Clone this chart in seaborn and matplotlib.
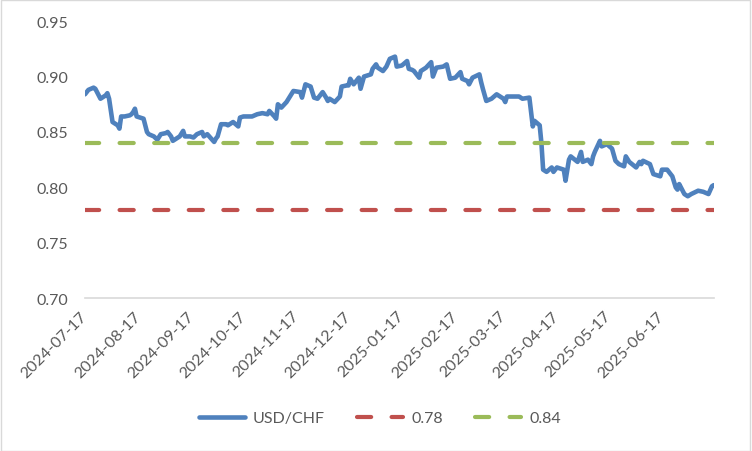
import matplotlib.pyplot as plt
from matplotlib.patches import Rectangle
import seaborn as sns
import pandas as pd

# USD/CHF
dates = [
    "2024-07-17", "2024-07-19", "2024-07-22", "2024-07-23", "2024-07-26", "2024-07-29",
    "2024-07-30", "2024-07-31", "2024-08-02", "2024-08-05", "2024-08-06", "2024-08-07",
    "2024-08-09", "2024-08-12", "2024-08-13", "2024-08-14", "2024-08-15", "2024-08-16",
    "2024-08-20", "2024-08-22", "2024-08-23", "2024-08-26", "2024-08-28", "2024-08-30",
    "2024-09-02", "2024-09-03", "2024-09-05", "2024-09-06", "2024-09-10", "2024-09-12",
    "2024-09-13", "2024-09-16", "2024-09-18", "2024-09-20", "2024-09-23", "2024-09-24",
    "2024-09-26", "2024-09-30", "2024-10-01", "2024-10-02", "2024-10-04", "2024-10-07",
    "2024-10-08", "2024-10-11", "2024-10-14", "2024-10-15", "2024-10-17", "2024-10-18",
    "2024-10-22", "2024-10-25", "2024-10-28", "2024-10-31", "2024-11-01", "2024-11-04",
    "2024-11-05", "2024-11-06", "2024-11-08", "2024-11-11", "2024-11-13", "2024-11-15",
    "2024-11-19", "2024-11-20", "2024-11-22", "2024-11-25", "2024-11-27", "2024-11-29",
    "2024-12-02", "2024-12-04", "2024-12-05", "2024-12-06", "2024-12-09", "2024-12-12",
    "2024-12-13", "2024-12-16", "2024-12-17", "2024-12-18", "2024-12-20", "2024-12-23",
    "2024-12-24", "2024-12-26", "2024-12-30", "2024-12-31", "2025-01-02", "2025-01-03",
    "2025-01-06", "2025-01-08", "2025-01-10", "2025-01-13", "2025-01-14", "2025-01-17",
    "2025-01-20", "2025-01-21", "2025-01-23", "2025-01-24", "2025-01-27", "2025-01-28",
    "2025-01-31", "2025-02-03", "2025-02-04", "2025-02-06", "2025-02-10", "2025-02-12",
    "2025-02-14", "2025-02-17", "2025-02-20", "2025-02-21", "2025-02-24", "2025-02-25",
    "2025-02-27", "2025-03-03", "2025-03-04", "2025-03-05", "2025-03-07", "2025-03-10",
    "2025-03-13", "2025-03-17", "2025-03-18", "2025-03-19", "2025-03-21", "2025-03-24",
    "2025-03-26", "2025-03-28", "2025-04-01", "2025-04-03", "2025-04-04", "2025-04-07",
    "2025-04-08", "2025-04-09", "2025-04-11", "2025-04-14", "2025-04-15", "2025-04-17",
    "2025-04-21", "2025-04-22", "2025-04-24", "2025-04-25", "2025-04-29", "2025-05-01",
    "2025-05-02", "2025-05-05", "2025-05-07", "2025-05-08", "2025-05-09", "2025-05-12",
    "2025-05-13", "2025-05-16", "2025-05-19", "2025-05-21", "2025-05-23", "2025-05-26",
    "2025-05-27", "2025-05-29", "2025-06-02", "2025-06-04", "2025-06-05", "2025-06-06",
    "2025-06-10", "2025-06-12", "2025-06-16", "2025-06-17", "2025-06-20", "2025-06-23",
    "2025-06-25", "2025-06-26", "2025-06-27", "2025-06-30", "2025-07-02", "2025-07-04",
    "2025-07-08", "2025-07-11", "2025-07-14", "2025-07-16", "2025-07-17",
]
usdchf = [
    0.884, 0.888, 0.890, 0.889, 0.880, 0.883,
    0.885, 0.880, 0.859, 0.856, 0.853, 0.864,
    0.864, 0.865, 0.866, 0.868, 0.871, 0.864,
    0.862, 0.850, 0.848, 0.846, 0.843, 0.848,
    0.849, 0.850, 0.846, 0.842, 0.846, 0.851,
    0.846, 0.846, 0.845, 0.848, 0.850, 0.846,
    0.848, 0.841, 0.844, 0.846, 0.857, 0.857,
    0.856, 0.859, 0.855, 0.863, 0.864, 0.864,
    0.864, 0.866, 0.867, 0.866, 0.869, 0.864,
    0.862, 0.875, 0.872, 0.877, 0.882, 0.887,
    0.886, 0.881, 0.893, 0.891, 0.881, 0.880,
    0.886, 0.881, 0.878, 0.880, 0.877, 0.882,
    0.891, 0.892, 0.892, 0.898, 0.893, 0.899,
    0.889, 0.900, 0.902, 0.907, 0.911, 0.908,
    0.905, 0.909, 0.916, 0.918, 0.909, 0.910,
    0.914, 0.907, 0.906, 0.905, 0.899, 0.905,
    0.908, 0.913, 0.900, 0.908, 0.909, 0.911,
    0.898, 0.899, 0.904, 0.898, 0.896, 0.893,
    0.899, 0.902, 0.895, 0.889, 0.878, 0.880,
    0.884, 0.880, 0.877, 0.882, 0.882, 0.882,
    0.882, 0.880, 0.881, 0.855, 0.860, 0.856,
    0.840, 0.816, 0.814, 0.818, 0.814, 0.818,
    0.816, 0.806, 0.825, 0.828, 0.823, 0.832,
    0.823, 0.825, 0.821, 0.828, 0.832, 0.842,
    0.837, 0.839, 0.835, 0.824, 0.821, 0.819,
    0.828, 0.823, 0.818, 0.823, 0.821, 0.824,
    0.821, 0.812, 0.810, 0.816, 0.816, 0.810,
    0.800, 0.798, 0.803, 0.794, 0.792, 0.794,
    0.797, 0.796, 0.794, 0.801, 0.802,
]
level_low = 0.78
level_high = 0.84
tick_dates = [
    "2024-07-17", "2024-08-17", "2024-09-17", "2024-10-17", "2024-11-17", "2024-12-17",
    "2025-01-17", "2025-02-17", "2025-03-17", "2025-04-17", "2025-05-17", "2025-06-17",
    "2025-07-17",
]

sns.set_theme(style="white")
plt.rcParams["font.family"] = ["Lato", "DejaVu Sans"]

df = pd.DataFrame({"date": pd.to_datetime(dates), "USD/CHF": usdchf})
df["0.78"] = level_low
df["0.84"] = level_high

fig = plt.figure(figsize=(7.52, 4.52), dpi=100)
ax = fig.add_axes([0.113, 0.338, 0.836, 0.613])

sns.lineplot(data=df, x="date", y="USD/CHF", ax=ax, color="#4f81bd", linewidth=3.3,
             label="USD/CHF", solid_joinstyle="round", solid_capstyle="round")
sns.lineplot(data=df, x="date", y="0.78", ax=ax, color="#c0504d", linewidth=3,
             label="0.78", linestyle=(0, (3.4, 4.9)), dash_capstyle="round")
sns.lineplot(data=df, x="date", y="0.84", ax=ax, color="#9bbb59", linewidth=3,
             label="0.84", linestyle=(0, (3.4, 4.9)), dash_capstyle="round")

if ax.get_legend() is not None:
    ax.get_legend().remove()

ax.set_ylim(0.70, 0.95)
ax.set_yticks([0.70, 0.75, 0.80, 0.85, 0.90, 0.95])
ax.yaxis.set_major_formatter(plt.FormatStrFormatter("%.2f"))
ax.set_xlim(pd.Timestamp(tick_dates[0]), pd.Timestamp(tick_dates[-1]))
ax.set_xticks(pd.to_datetime(tick_dates))
ax.set_xticklabels(tick_dates[:-1] + [""])
ax.set_xlabel("")
ax.set_ylabel("")

for s in ["left", "right", "top"]:
    ax.spines[s].set_visible(False)
ax.spines["bottom"].set_color("#d9d9d9")
ax.spines["bottom"].set_linewidth(1.2)
ax.tick_params(axis="x", direction="out", length=5, width=1.2, color="#d9d9d9",
               labelcolor="#595959", labelsize=11.5, pad=6)
ax.tick_params(axis="y", length=0, labelcolor="#595959", labelsize=11.5, pad=12)
for lab in ax.get_xticklabels():
    lab.set_rotation(45)
    lab.set_ha("right")
    lab.set_va("center")
    lab.set_rotation_mode("anchor")
ax.grid(False)

h, l = ax.get_legend_handles_labels()
fig.legend(h, l, loc="center", bbox_to_anchor=(0.505, 0.073), ncol=3, frameon=False,
           fontsize=11.5, labelcolor="#595959", handlelength=2.9, columnspacing=2.0,
           handletextpad=0.5)

fig.patches.append(Rectangle((0.001, 0.001), 0.997, 0.997, transform=fig.transFigure,
                             fill=False, edgecolor="#d9d9d9", linewidth=1))

fig.savefig("out.png", dpi=100)
